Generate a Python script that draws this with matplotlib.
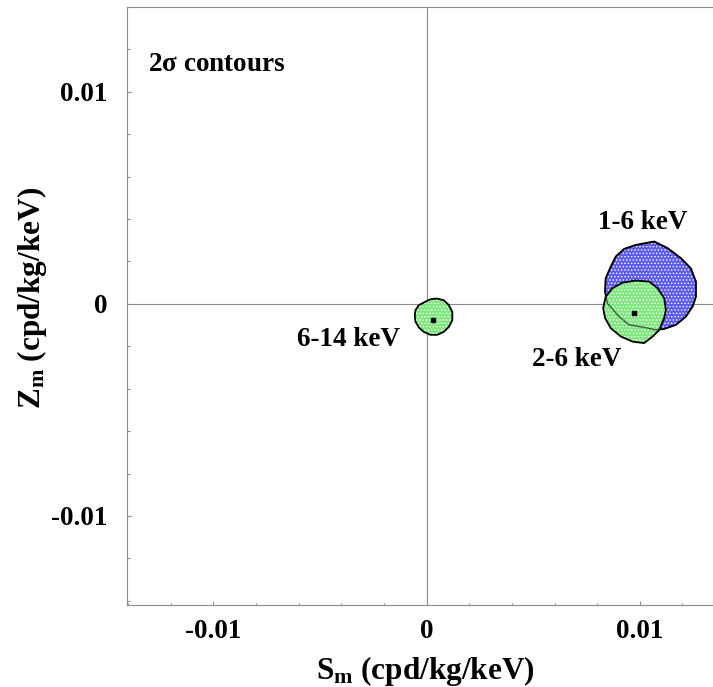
import numpy as np
import matplotlib
matplotlib.use('Agg')
from matplotlib import pyplot as plt
from matplotlib.patches import Polygon
from matplotlib.ticker import MultipleLocator, FixedFormatter, FixedLocator

plt.rcParams['font.family'] = ['Liberation Serif', 'DejaVu Serif']
plt.rcParams['font.weight'] = 'bold'
plt.rcParams['mathtext.fontset'] = 'custom'
plt.rcParams['mathtext.rm'] = 'Liberation Serif:bold'
plt.rcParams['mathtext.bf'] = 'Liberation Serif:bold'
plt.rcParams['mathtext.it'] = 'Liberation Serif:bold'

#### contour outlines (Sm, Zm) ####
c16_x = [0.00926, 0.00981, 0.01067, 0.01130, 0.01192, 0.01239, 0.01263, 0.01263,
         0.01247, 0.01216, 0.01169, 0.01114, 0.01075, 0.01028, 0.00950, 0.00903,
         0.00848, 0.00837, 0.00840, 0.00864, 0.00887]
c16_y = [0.00259, 0.00278, 0.00294, 0.00263, 0.00216, 0.00168, 0.00105, 0.00034,
         -0.00013, -0.00060, -0.00099, -0.00118, -0.00123, -0.00112, -0.00099, -0.00060,
         0.00003, 0.00058, 0.00121, 0.00176, 0.00223]

c26_x = [0.00919, 0.00981, 0.01044, 0.01083, 0.01114, 0.01122, 0.01114, 0.01091,
         0.01060, 0.01020, 0.00966, 0.00911, 0.00864, 0.00837, 0.00828, 0.00840, 0.00872]
c26_y = [0.00100, 0.00110, 0.00105, 0.00074, 0.00027, -0.00028, -0.00067, -0.00123,
         -0.00154, -0.00185, -0.00178, -0.00154, -0.00115, -0.00067, -0.00020, 0.00034, 0.00074]

c614_x = [-0.00055, -0.00052, -0.00036, -0.00013, -0.00001, 0.00019, 0.00050, 0.00081,
          0.00105, 0.00121, 0.00121, 0.00105, 0.00081, 0.00050, 0.00019, -0.00013,
          -0.00036, -0.00052]
c614_y = [-0.00053, -0.00030, -0.00006, 0.00006, 0.00013, 0.00022, 0.00025, 0.00017,
          -0.00006, -0.00038, -0.00077, -0.00108, -0.00132, -0.00146, -0.00146, -0.00132,
          -0.00111, -0.00083]

# best-fit points
best_x = [0.00972, 0.00030]
best_y = [-0.00042, -0.00075]

labels = ['1-6 keV', '2-6 keV', '6-14 keV']
label_x = [0.01013, 0.00704, -0.00366]
label_y = [0.00382, -0.00264, -0.00170]

xticks = [-0.01, 0, 0.01]
xticklabels = ['-0.01', '0', '0.01']
yticks = [-0.01, 0, 0.01]
yticklabels = ['-0.01', '0', '0.01']

blue = '#5c5cf0'
green = '#7ee87e'
gray = '#8c8c8c'

fig = plt.figure(figsize=(7.13, 6.87), dpi=100)
ax = fig.add_axes([127/713, 82/687, 1 - 127/713, 598/687])
ax.set_xlim(-0.01404, 0.01343)
ax.set_ylim(-0.01420, 0.01400)

ax.axvline(0, color=gray, lw=0.8, zorder=1)
ax.axhline(0, color=gray, lw=0.8, zorder=1)

def contour(xs, ys, col, z):
    pts = np.column_stack([xs, ys])
    ax.add_patch(Polygon(pts, closed=True, facecolor=col, edgecolor='white',
                         hatch='.....', lw=0, zorder=z))
    ax.add_patch(Polygon(pts, closed=True, facecolor='none', edgecolor='black',
                         lw=1.3, zorder=z + 0.5))

plt.rcParams['hatch.linewidth'] = 0.6
contour(c16_x, c16_y, blue, 2)
contour(c26_x, c26_y, green, 3)
# 1-6 keV boundary seen through the 2-6 keV region
ax.add_patch(Polygon(np.column_stack([c16_x, c16_y]), closed=True, facecolor='none',
                     edgecolor='black', lw=1.0, alpha=0.6, zorder=3.7))
contour(c614_x, c614_y, green, 4)

ax.plot(best_x, best_y, 's', color='black', ms=2.2, zorder=6)

for t, x, y in zip(labels, label_x, label_y):
    ax.text(x, y, t, fontsize=19.5, fontweight='bold', ha='center', va='center')
ax.text(-0.01305, 0.01127, r'2$\sigma$ contours', fontsize=19.5, fontweight='bold',
        ha='left', va='center')

ax.xaxis.set_major_locator(FixedLocator(xticks))
ax.xaxis.set_major_formatter(FixedFormatter(xticklabels))
ax.yaxis.set_major_locator(FixedLocator(yticks))
ax.yaxis.set_major_formatter(FixedFormatter(yticklabels))
ax.xaxis.set_minor_locator(MultipleLocator(0.002))
ax.yaxis.set_minor_locator(MultipleLocator(0.002))
ax.tick_params(which='both', direction='in', color=gray, width=0.8,
               labelsize=19.5, top=False, right=False)
ax.tick_params(which='major', length=3, pad=10)
ax.tick_params(which='minor', length=1.8)
ax.tick_params(axis='y', which='major', pad=14)

for s in ['left', 'bottom', 'top']:
    ax.spines[s].set_color(gray)
    ax.spines[s].set_linewidth(0.8)
ax.spines['right'].set_visible(False)

ax.set_xlabel(r'$\mathbf{S_m}$ (cpd/kg/keV)', fontsize=22.5, fontweight='bold')
ax.set_ylabel(r'$\mathbf{Z_m}$ (cpd/kg/keV)', fontsize=22.5, fontweight='bold')
ax.xaxis.set_label_coords(0.5085, -0.082)
ax.yaxis.set_label_coords(-0.133, 0.514)

fig.savefig('out.png', dpi=100)
